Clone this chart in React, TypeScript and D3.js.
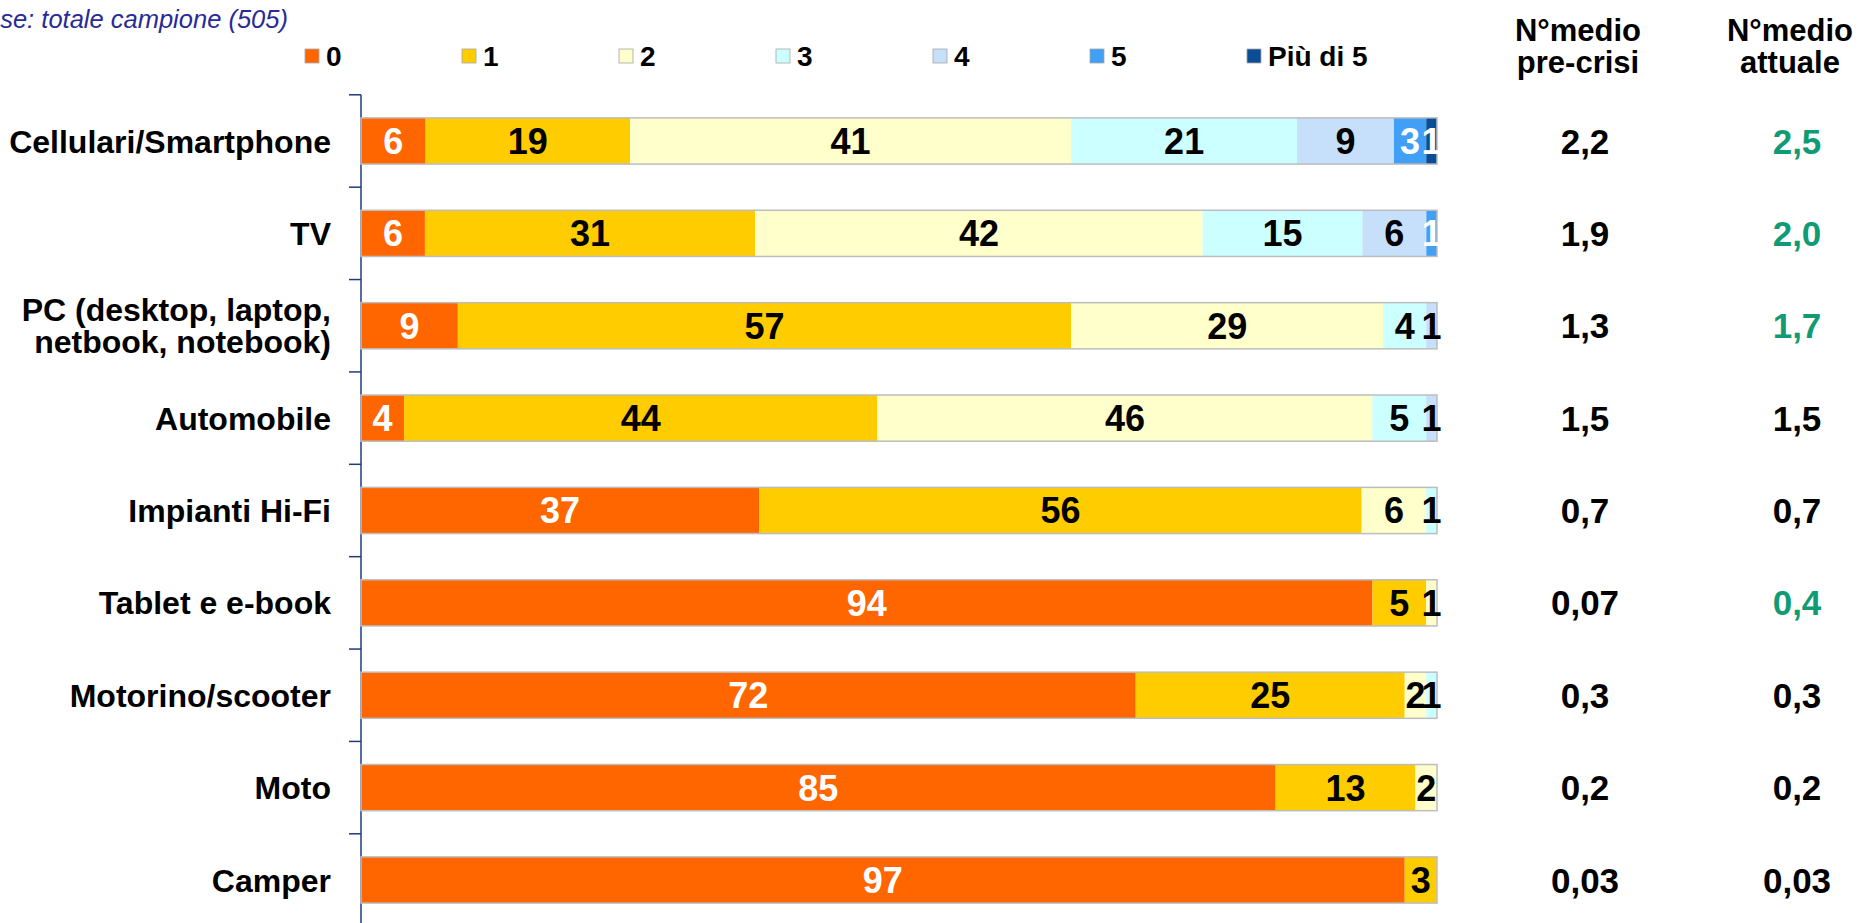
import React from "react";
import * as d3 from "d3";

const categories = [
  "Cellulari/Smartphone",
  "TV",
  "PC (desktop, laptop,|netbook, notebook)",
  "Automobile",
  "Impianti Hi-Fi",
  "Tablet e e-book",
  "Motorino/scooter",
  "Moto",
  "Camper",
];
const seriesNames = ["0", "1", "2", "3", "4", "5", "Più di 5"];
const values0 = [6, 6, 9, 4, 37, 94, 72, 85, 97];
const values1 = [19, 31, 57, 44, 56, 5, 25, 13, 3];
const values2 = [41, 42, 29, 46, 6, 1, 2, 2, 0];
const values3 = [21, 15, 4, 5, 1, 0, 1, 0, 0];
const values4 = [9, 6, 1, 1, 0, 0, 0, 0, 0];
const values5 = [3, 1, 0, 0, 0, 0, 0, 0, 0];
const valuesMore = [1, 0, 0, 0, 0, 0, 0, 0, 0];
const meanPre = ["2,2", "1,9", "1,3", "1,5", "0,7", "0,07", "0,3", "0,2", "0,03"];
const meanNow = ["2,5", "2,0", "1,7", "1,5", "0,7", "0,4", "0,3", "0,2", "0,03"];
const headerPre = ["N°medio", "pre-crisi"];
const headerNow = ["N°medio", "attuale"];
const subtitle = "Base: totale campione (505)";

const seriesValues = [values0, values1, values2, values3, values4, values5, valuesMore];
const colors = ["#FF6600", "#FFCC00", "#FFFFCC", "#CCFFFF", "#C6DFFA", "#419FF5", "#0B4C96"];
const labelColors = ["#FFFFFF", "#000000", "#000000", "#000000", "#000000", "#FFFFFF", "#FFFFFF"];
const GREEN = "#119B74";
const FONT = "'Liberation Sans', Arial, Helvetica, sans-serif";

export default function App() {
  const W = 1858;
  const H = 923;
  const x0 = 361;
  const x1 = 1437;
  const step = 92.375;
  const top = 94.8;

  const y = d3
    .scaleBand<number>()
    .domain(d3.range(categories.length))
    .range([top, top + step * categories.length])
    .paddingInner(0.5)
    .paddingOuter(0.25);

  const rows = categories.map((c, i) => {
    const vals = seriesValues.map((s) => s[i]);
    const total = d3.sum(vals);
    const x = d3.scaleLinear().domain([0, total]).range([x0, x1]);
    let acc = 0;
    const segs = vals.map((v, k) => {
      const s = { k, v, a: x(acc), b: x(acc + v) };
      acc += v;
      return s;
    });
    return { c, i, segs };
  });

  const legendX = d3.scaleLinear().domain([0, 1]).range([305, 462]);
  const bw = y.bandwidth();

  return (
    <svg
      width={W}
      height={H}
      style={{ position: "absolute", left: 0, top: 0, background: "#fff" }}
      fontFamily={FONT}
    >
      <text x={-31} y={28} fontSize={25.5} fontStyle="italic" fill="#2A2A96">
        {subtitle}
      </text>

      {/* legend */}
      {seriesNames.map((n, k) => (
        <g key={n} transform={`translate(${legendX(k)},0)`}>
          <rect x={0} y={49} width={14} height={14} fill={colors[k]} stroke="#A6A6A6" strokeWidth={0.8} />
          <text x={21} y={66} fontSize={28} fontWeight="bold" fill="#000">
            {n}
          </text>
        </g>
      ))}

      {/* headers */}
      {headerPre.map((t, j) => (
        <text key={"hp" + j} x={1578} y={41 + j * 32} fontSize={31} fontWeight="bold" textAnchor="middle">
          {t}
        </text>
      ))}
      {headerNow.map((t, j) => (
        <text key={"hn" + j} x={1790} y={41 + j * 32} fontSize={31} fontWeight="bold" textAnchor="middle">
          {t}
        </text>
      ))}

      {/* axis */}
      <line x1={x0} x2={x0} y1={top} y2={H} stroke="#1F3D7A" strokeWidth={1.5} />
      {d3.range(categories.length + 1).map((i) => (
        <line
          key={"t" + i}
          x1={x0 - 12}
          x2={x0}
          y1={top + i * step}
          y2={top + i * step}
          stroke="#1F3D7A"
          strokeWidth={1.5}
        />
      ))}

      {rows.map(({ c, i, segs }) => {
        const yt = y(i)!;
        const cy = yt + bw / 2;
        const lines = c.split("|");
        const pre = meanPre[i];
        const now = meanNow[i];
        const green = parseFloat(now.replace(",", ".")) > parseFloat(pre.replace(",", "."));
        return (
          <g key={c}>
            {segs
              .filter((s) => s.v > 0)
              .map((s) => (
                <rect key={s.k} x={s.a} y={yt} width={s.b - s.a} height={bw} fill={colors[s.k]} />
              ))}
            <rect x={x0} y={yt} width={x1 - x0} height={bw} fill="none" stroke="#BDBDBD" strokeWidth={1.5} />
            {segs
              .filter((s) => s.v > 0)
              .map((s) => (
                <text
                  key={"l" + s.k}
                  x={(s.a + s.b) / 2}
                  y={cy}
                  dy="0.36em"
                  fontSize={36}
                  fontWeight="bold"
                  textAnchor="middle"
                  fill={labelColors[s.k]}
                >
                  {s.v}
                </text>
              ))}
            {lines.map((ln, j) => (
              <text
                key={"c" + j}
                x={331}
                y={cy + (j - (lines.length - 1) / 2) * 32}
                dy="0.36em"
                fontSize={32}
                fontWeight="bold"
                textAnchor="end"
              >
                {ln}
              </text>
            ))}
            <text x={1585} y={cy} dy="0.36em" fontSize={35} fontWeight="bold" textAnchor="middle">
              {pre}
            </text>
            <text
              x={1797}
              y={cy}
              dy="0.36em"
              fontSize={35}
              fontWeight="bold"
              textAnchor="middle"
              fill={green ? GREEN : "#000"}
            >
              {now}
            </text>
          </g>
        );
      })}
    </svg>
  );
}
